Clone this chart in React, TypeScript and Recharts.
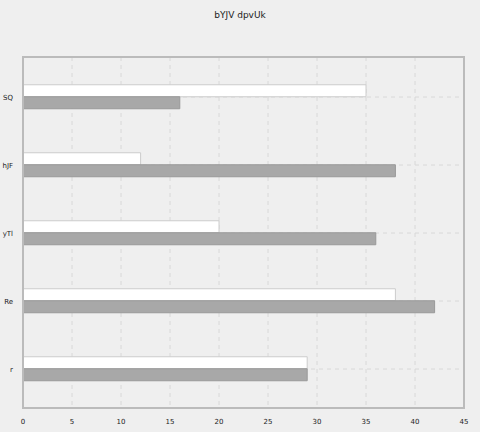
import { BarChart, Bar, XAxis, YAxis, CartesianGrid } from "recharts";

const categories = ["SQ", "hJF", "yTl", "Re", "r"];
const whiteValues = [35, 12, 20, 38, 29];
const grayValues = [16, 38, 36, 42, 29];
const xTicks = [0, 5, 10, 15, 20, 25, 30, 35, 40, 45];

const data = categories.map((name, i) => ({
  name,
  a: whiteValues[i],
  b: grayValues[i],
}));

const YTick = ({ x, y, payload }: any) => (
  <text x={x - 2} y={y} dy={3} textAnchor="end" fontFamily="DejaVu Sans" fontSize={7} fill="#222">
    {payload.value}
  </text>
);

const XTick = ({ x, y, payload }: any) => (
  <text x={x} y={y} dy={8} textAnchor="middle" fontFamily="DejaVu Sans" fontSize={7} fill="#222">
    {payload.value}
  </text>
);

export default function App() {
  return (
    <div style={{ position: "fixed", left: 0, top: 0, width: 480, height: 432, background: "#efefef" }}>
      <div style={{ position: "absolute", top: 10, width: 480, textAlign: "center", fontFamily: "DejaVu Sans", fontSize: 9, color: "#222" }}>
        bYJV dpvUk
      </div>
      <BarChart
        width={480}
        height={432}
        data={data}
        layout="vertical"
        margin={{ top: 57, right: 16, bottom: 4, left: 0 }}
        barCategoryGap="32%"
        barGap={0}
        style={{ overflow: "visible" }}
      >
        <CartesianGrid strokeDasharray="4 4" stroke="#d8d8d8" fill="#efefef" />
        <XAxis
          type="number"
          domain={[0, 45]}
          ticks={xTicks}
          height={20}
          tick={<XTick />}
          tickLine={false}
          axisLine={{ stroke: "#bbb", strokeWidth: 2 }}
        />
        <YAxis
          type="category"
          dataKey="name"
          width={23}
          tick={<YTick />}
          tickLine={false}
          axisLine={{ stroke: "#bbb", strokeWidth: 2 }}
          padding={{ top: 6, bottom: 5 }}
        />
        <Bar dataKey="a" fill="#ffffff" stroke="#cccccc" isAnimationActive={false} />
        <Bar dataKey="b" fill="#a8a8a8" stroke="#999999" isAnimationActive={false} />
      </BarChart>
      <div style={{ position: "absolute", left: 22, top: 56, width: 443, height: 353, border: "2px solid #bbb", boxSizing: "border-box", pointerEvents: "none" }} />
    </div>
  );
}
